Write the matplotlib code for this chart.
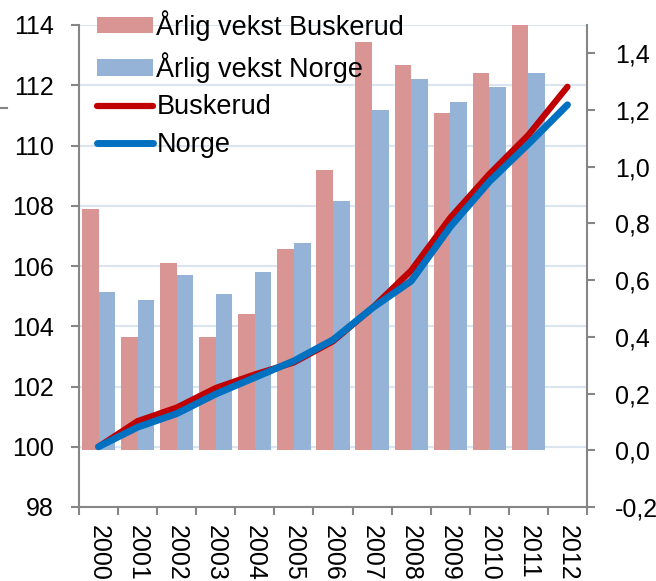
import matplotlib
matplotlib.use("Agg")
import matplotlib.pyplot as plt
from matplotlib.lines import Line2D
from matplotlib.ticker import FixedLocator, FuncFormatter
import numpy as np

plt.rcParams['font.family'] = ['Liberation Sans', 'DejaVu Sans']

years = ['2000', '2001', '2002', '2003', '2004', '2005', '2006',
         '2007', '2008', '2009', '2010', '2011', '2012']
vekst_buskerud = [0.85, 0.40, 0.66, 0.40, 0.48, 0.71, 0.99,
                  1.44, 1.36, 1.19, 1.33, 1.55, np.nan]
vekst_norge = [0.56, 0.53, 0.62, 0.55, 0.63, 0.73, 0.88,
               1.20, 1.31, 1.23, 1.28, 1.33, np.nan]
idx_buskerud = [100.0, 100.85, 101.3, 101.95, 102.4, 102.8, 103.5,
                104.6, 105.85, 107.6, 109.05, 110.35, 111.95]
idx_norge = [100.0, 100.65, 101.1, 101.75, 102.3, 102.85, 103.55,
             104.6, 105.5, 107.3, 108.8, 110.05, 111.35]

C_PINK = '#d99594'
C_LBLUE = '#95b3d7'
C_RED = '#c00000'
C_BLUE = '#0070c0'
C_AX = '#868686'
C_GRID = '#dbe5f1'
FS = 18

fig = plt.figure(figsize=(6.56, 5.81), dpi=100)
axL = fig.add_axes([79/656, 1-507/581, (587-79)/656, (507-25)/581])
x = np.arange(len(years))

# left axis: grid + ticks
axL.set_ylim(98, 114)
axL.set_yticks(np.arange(98, 115, 2))
axL.set_xlim(-0.5, len(years) - 0.5)
axL.grid(axis='y', color=C_GRID, linewidth=1.5)
axL.set_axisbelow(True)

# right axis: bars
axR = axL.twinx()
axR.set_ylim(-0.2, 1.5)
axR.yaxis.set_major_locator(FixedLocator(np.round(np.arange(-0.2, 1.41, 0.2), 1)))
axR.yaxis.set_major_formatter(FuncFormatter(lambda v, p: f"{v:.1f}".replace('.', ',')))
w = 0.425
b1 = axR.bar(x - w/2, vekst_buskerud, w, color=C_PINK, label='Årlig vekst Buskerud', zorder=2)
b2 = axR.bar(x + w/2, vekst_norge, w, color=C_LBLUE, label='Årlig vekst Norge', zorder=2)

# lines on top, left scale
axT = axL.twinx()
axT.set_ylim(axL.get_ylim())
axT.set_yticks([])
for s in axT.spines.values():
    s.set_visible(False)
l1, = axT.plot(x, idx_buskerud, color=C_RED, lw=4.5, solid_capstyle='round',
               solid_joinstyle='round', label='Buskerud')
l2, = axT.plot(x, idx_norge, color=C_BLUE, lw=5.0, solid_capstyle='round',
               solid_joinstyle='round', label='Norge')

# x axis
axL.set_xticks(x)
axL.set_xticklabels(years, rotation=-90, fontsize=FS)
axL.set_xticks(np.arange(-0.5, len(years), 1), minor=True)
axL.tick_params(axis='x', which='major', length=0, pad=13)
axL.tick_params(axis='x', which='minor', length=6, width=1.5, color=C_AX)

axL.tick_params(axis='y', labelsize=FS, length=6, width=1.5, color=C_AX, pad=12)
axR.tick_params(axis='y', labelsize=FS, length=6, width=1.5, color=C_AX, pad=14)

for ax in (axL, axR):
    ax.spines['top'].set_visible(False)
    for k in ('left', 'right', 'bottom'):
        ax.spines[k].set_color(C_AX)
        ax.spines[k].set_linewidth(1.5)
axL.spines['right'].set_visible(False)
axR.spines['left'].set_visible(False)
axR.spines['bottom'].set_visible(False)

leg = axT.legend(handles=[b1, b2, l1, l2], loc='upper left',
                 bbox_to_anchor=(97/656, 1-10/581), bbox_transform=fig.transFigure,
                 frameon=False, fontsize=19.5, handlelength=2.05, handleheight=0.55,
                 handletextpad=0.14, labelspacing=0.42, borderpad=0, borderaxespad=0)

fig.add_artist(Line2D([0, 7/656], [1-108/581, 1-108/581], color=C_AX, lw=1.5))

fig.savefig('out.png', dpi=100)
